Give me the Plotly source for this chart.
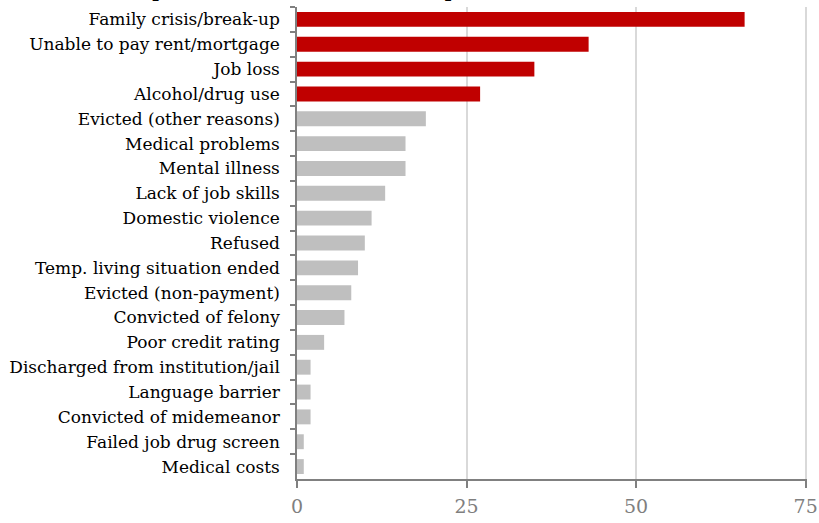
import plotly.graph_objects as go

categories = [
    "Family crisis/break-up",
    "Unable to pay rent/mortgage",
    "Job loss",
    "Alcohol/drug use",
    "Evicted (other reasons)",
    "Medical problems",
    "Mental illness",
    "Lack of job skills",
    "Domestic violence",
    "Refused",
    "Temp. living situation ended",
    "Evicted (non-payment)",
    "Convicted of felony",
    "Poor credit rating",
    "Discharged from institution/jail",
    "Language barrier",
    "Convicted of midemeanor",
    "Failed job drug screen",
    "Medical costs",
]
values = [66, 43, 35, 27, 19, 16, 16, 13, 11, 10, 9, 8, 7, 4, 2, 2, 2, 1, 1]
highlight_count = 4
x_ticks = [0, 25, 50, 75]
title_text = "Top reasons for homelessness (percent)"

RED = "#C00000"
GREY = "#BFBFBF"
colors = [RED if i < highlight_count else GREY for i in range(len(categories))]

FONT = "DejaVu Serif"

fig = go.Figure(
    go.Bar(
        x=values,
        y=categories,
        orientation="h",
        marker=dict(color=colors, line=dict(width=0)),
        hoverinfo="x+y",
    )
)

fig.update_layout(
    width=819,
    height=523,
    margin=dict(l=297, r=12, t=7, b=44, autoexpand=False),
    paper_bgcolor="white",
    plot_bgcolor="white",
    bargap=0.4,
    showlegend=False,
    font=dict(family=FONT, color="black"),
    annotations=[
        dict(
            text="<b>" + title_text + "</b>",
            font=dict(family=FONT, size=18, color="black"),
            xref="paper",
            yref="paper",
            x=0.065,
            y=1,
            xanchor="center",
            yanchor="bottom",
            yshift=4,
            showarrow=False,
        )
    ],
)

fig.update_xaxes(
    range=[0, 75.2],
    tickvals=x_ticks,
    ticktext=[str(v) for v in x_ticks],
    tickfont=dict(family=FONT, size=19, color="#7F7F7F"),
    showgrid=True,
    gridcolor="#D9D9D9",
    gridwidth=1.5,
    showline=True,
    linecolor="#808080",
    linewidth=1.5,
    ticks="outside",
    ticklen=7,
    tickwidth=1.5,
    tickcolor="#808080",
    zeroline=False,
    automargin=False,
    ticklabelstandoff=2,
)

fig.update_yaxes(
    autorange="reversed",
    tickfont=dict(family=FONT, size=17, color="black"),
    showline=True,
    linecolor="#808080",
    linewidth=1.5,
    ticks="outside",
    tickson="boundaries",
    ticklen=5,
    tickwidth=1.5,
    tickcolor="#808080",
    showgrid=False,
    automargin=False,
    ticklabelstandoff=12,
)

fig.write_html(
    "out.html",
    config={"displayModeBar": False},
    post_script="document.body.style.margin='0';document.body.style.overflow='hidden';",
)
